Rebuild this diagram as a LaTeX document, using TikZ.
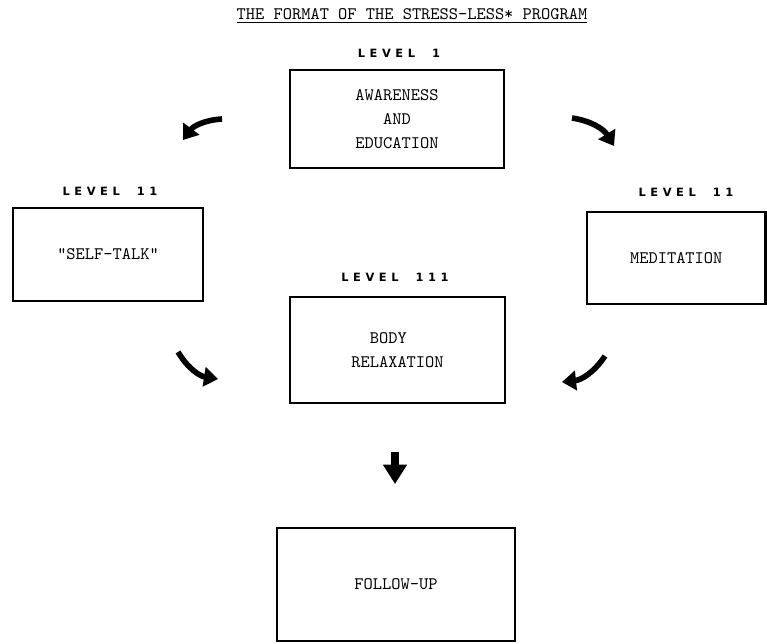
\documentclass[tikz,border=0pt]{standalone}
\usepackage{fontspec}
\usetikzlibrary{arrows.meta}
\newfontfamily\levelFont[LetterSpace=40]{DejaVu Sans}
\newcommand{\typeFont}{\ttfamily\addfontfeature{FakeBold=0.8}}
\tikzset{
  stage/.style={draw, line width=1.4pt, align=center, inner sep=0pt,
    font={\typeFont\fontsize{10}{13.8}\selectfont}},
  levelmark/.style={inner sep=0pt, font={\levelFont\bfseries\fontsize{6.5}{7}\selectfont}},
  turnarrow/.style={line width=3.2pt, -{Triangle[length=8pt,width=11pt]}},
  droparrow/.style={line width=4.5pt, -{Triangle[length=11pt,width=13pt]}}
}

\begin{document}
\begin{tikzpicture}[x=0.02cm, y=-0.02cm]
	\useasboundingbox (0,0) rectangle (767,643);

	% --- Titel ---
	\node[font=\typeFont] (title) at (412,16) {\underline{THE FORMAT OF THE STRESS-LESS* PROGRAM}};

	% --- Stufen (Kaesten) ---
	\node[stage, minimum width=4.28cm, minimum height=1.96cm] (aware) at (397,119) {AWARENESS\\AND\\EDUCATION};
	\node[stage, minimum width=3.80cm, minimum height=1.86cm] (selftalk) at (108,254.5) {"SELF-TALK"};
	\node[stage, minimum width=3.57cm, minimum height=1.84cm] (medit) at (676.25,258) {MEDITATION};
	\node[stage, align=left, minimum width=4.30cm, minimum height=2.12cm] (body) at (397.5,350) {\phantom{RE}BODY\\RELAXATION};
	\node[stage, minimum width=4.76cm, minimum height=2.26cm] (follow) at (396,584.5) {FOLLOW-UP};

	% --- Beschriftungen der Stufen ---
	\node[levelmark] (lvlOne) at (399,53.5) {LEVEL\ \ 1};
	\node[levelmark] (lvlTwoL) at (110,191) {LEVEL\ \ 11};
	\node[levelmark] (lvlTwoR) at (686,192) {LEVEL\ \ 11};
	\node[levelmark] (lvlThree) at (395,277.5) {LEVEL\ \ 111};

	% --- Pfeile ---
	\coordinate (upLa) at (222,119);
	\coordinate (upLb) at (183,140);
	\coordinate (upRa) at (572,118);
	\coordinate (upRb) at (614,146);
	\coordinate (loLa) at (178,352);
	\coordinate (loLb) at (218,379);
	\coordinate (loRa) at (605,356);
	\coordinate (loRb) at (562,382);
	\coordinate (dropA) at (395,452);
	\coordinate (dropB) at (395,484);

	\draw[turnarrow] (upLa) to[bend right=25] (upLb);
	\draw[turnarrow] (upRa) to[bend left=25] (upRb);
	\draw[turnarrow] (loLa) to[bend right=25] (loLb);
	\draw[turnarrow] (loRa) to[bend left=25] (loRb);
	\draw[droparrow] (dropA) -- (dropB);
\end{tikzpicture}
\end{document}
